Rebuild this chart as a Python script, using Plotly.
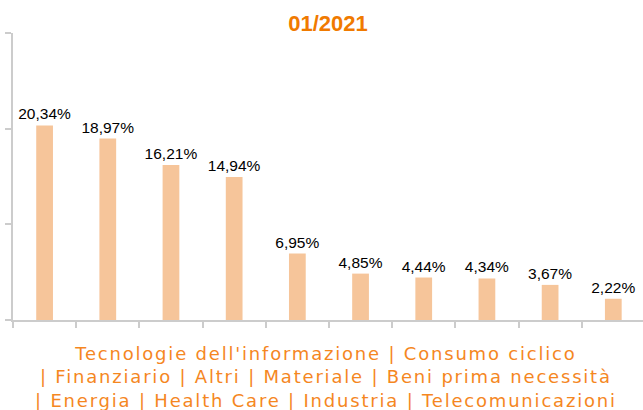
import plotly.graph_objects as go

categories = ["Tecnologie dell'informazione", "Consumo ciclico", "Finanziario", "Altri",
              "Materiale", "Beni prima necessità", "Energia", "Health Care",
              "Industria", "Telecomunicazioni"]
values = [20.34, 18.97, 16.21, 14.94, 6.95, 4.85, 4.44, 4.34, 3.67, 2.22]
title_text = "01/2021"
y_tickvals = [0, 10, 20, 30]

labels = [f"{v:.2f}%".replace(".", ",") for v in values]

fig = go.Figure(go.Bar(
    x=categories, y=values, text=labels, textposition="outside",
    textfont=dict(family="Liberation Sans, Arial", size=15.5, color="#000000"),
    marker=dict(color="#F6C59A", line=dict(width=0)),
    width=0.265, constraintext="none", cliponaxis=False,
))

axis_title = (categories[0] + " | " + categories[1] + "<br>| " +
              " | ".join(categories[2:6]) + "<br>| " + " | ".join(categories[6:]))

fig.update_layout(
    width=643, height=410,
    margin=dict(l=13, r=0, t=33, b=90),
    paper_bgcolor="white", plot_bgcolor="white",
    showlegend=False,
    title=dict(text="<b>" + title_text + "</b>", x=328 / 643, xanchor="center",
               y=1 - 23 / 410, yanchor="middle",
               font=dict(family="Liberation Sans, Arial", size=22, color="#F07A00")),
    xaxis=dict(type="category", range=[-0.5, 9.47], showticklabels=False, tickson="boundaries",
               ticks="outside", ticklen=6, tickcolor="#CCCCCC", tickwidth=1.5,
               showline=True, linecolor="#CCCCCC", linewidth=1.5, showgrid=False, zeroline=False),
    yaxis=dict(range=[0, 30], tickvals=y_tickvals, showticklabels=False, ticks="outside",
               ticklen=6, tickcolor="#CCCCCC", tickwidth=1.5, showline=True, linecolor="#CCCCCC",
               linewidth=1.5, showgrid=False, zeroline=False),
    annotations=[dict(text='<span style="letter-spacing:1.8px">' + axis_title + '</span>',
                      xref="paper", yref="paper", x=0.497, y=-0.073, xanchor="center", yanchor="top",
                      showarrow=False, align="center",
                      font=dict(family="DejaVu Sans", size=18, color="#F5871F"))],
)

fig.write_html("out.html", config={"displayModeBar": False},
               post_script="document.body.style.margin='0';")
